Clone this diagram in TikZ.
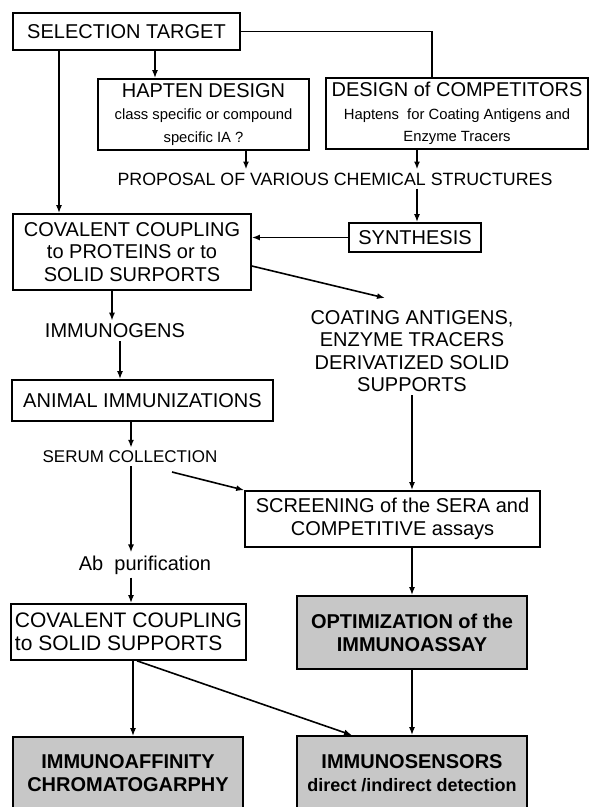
\documentclass[tikz,border=0pt]{standalone}
\usepackage{fontspec}
\setmainfont{Liberation Sans}
\usetikzlibrary{arrows.meta,calc}
\newcommand\subf{\fontsize{14.8}{17}\selectfont}
\newcommand\mainf{\fontsize{20}{22.5}\selectfont}
\begin{document}
\begin{tikzpicture}[x=1pt,y=-1pt,
  box/.style={draw, line width=1.7pt, inner sep=0pt, align=center, font=\mainf},
  shbox/.style={box, fill=black!22, font=\bfseries\fontsize{20}{23}\selectfont},
  lbl/.style={inner sep=3pt, align=center, font=\mainf},
  arr/.style={line width=1.6pt, -{Latex[length=8pt,width=6pt]}},
  ln/.style={line width=1.6pt}]
\useasboundingbox (0,0) rectangle (589,807);
\fill[white] (0,0) rectangle (589,807);
% columns
\coordinate (cL) at (59,0);
\coordinate (cH) at (155,0);
\coordinate (cD) at (432,0);
\coordinate (cP1) at (246,0);
\coordinate (cP2) at (417,0);
\coordinate (cI1) at (112,0);
\coordinate (cI2) at (120,0);
\coordinate (cS) at (131,0);
\coordinate (cR) at (412,0);
\coordinate (cA) at (133,0);
\coordinate (cB) at (137,0);
\coordinate (cN) at (352,0);
% nodes
\node[box, minimum width=227pt, minimum height=37pt] (sel) at (126.5,31.5) {SELECTION TARGET};
\node[box, minimum width=211pt, minimum height=71pt] (hap) at (203.5,114.5)
  {HAPTEN DESIGN\\ \subf class specific or compound\\ \subf specific IA ?};
\node[box, minimum width=262pt, minimum height=71pt] (des) at (457,113.5)
  {DESIGN of COMPETITORS\\ \subf Haptens\ \ for Coating Antigens and\\ \subf Enzyme Tracers};
\node[lbl, font=\fontsize{17.8}{20}\selectfont] (prop) at (335,179) {PROPOSAL OF VARIOUS CHEMICAL STRUCTURES};
\node[box, minimum width=132pt, minimum height=29pt] (syn) at (415,237.5) {SYNTHESIS};
\node[box, minimum width=238pt, minimum height=76pt] (cov1) at (132,252)
  {COVALENT COUPLING\\to PROTEINS or to\\SOLID SURPORTS};
\node[lbl] (immg) at (115,331) {IMMUNOGENS};
\node[lbl] (coat) at (412,351) {COATING ANTIGENS,\\ENZYME TRACERS\\DERIVATIZED SOLID\\SUPPORTS};
\node[box, minimum width=261pt, minimum height=41pt] (ani) at (142.5,400.5) {ANIMAL IMMUNIZATIONS};
\node[lbl, font=\fontsize{17}{19}\selectfont] (ser) at (130,457) {SERUM COLLECTION};
\node[box, minimum width=295pt, minimum height=56pt] (scr) at (392.5,519)
  {SCREENING of the SERA and\\COMPETITIVE assays};
\node[lbl] (abp) at (145,565) {Ab\ \ purification};
\node[box, align=left, minimum width=235pt, minimum height=56pt, font=\fontsize{21}{23.5}\selectfont] (cov2) at (128.5,632)
  {COVALENT COUPLING\\to SOLID SUPPORTS};
\node[shbox, minimum width=230pt, minimum height=73pt] (opt) at (412,632.5)
  {OPTIMIZATION of the\\IMMUNOASSAY};
\node[shbox, minimum width=230pt, minimum height=72pt] (iaf) at (128,773)
  {IMMUNOAFFINITY\\CHROMATOGARPHY};
\node[shbox, minimum width=230pt, minimum height=74pt] (ims) at (412,773)
  {IMMUNOSENSORS\\ \fontsize{18}{21}\selectfont direct /indirect detection};
% connectors
\draw[ln] (sel.east) -| (des.north -| cD);
\draw[arr] (sel.south -| cL) -- (cov1.north -| cL);
\draw[arr] (sel.south -| cH) -- (hap.north -| cH);
\draw[arr] (hap.south -| cP1) -- (prop.north -| cP1);
\draw[arr] (des.south -| cP2) -- (prop.north -| cP2);
\draw[arr] (prop.south -| cP2) -- (syn.north -| cP2);
\draw[arr] (syn.west) -- (syn.west -| cov1.east);
\coordinate (coatTip) at (385,298);
\draw[arr] ([yshift=-14pt]cov1.east) -- (coatTip);
\draw[arr] (cov1.south -| cI1) -- (immg.north -| cI1);
\draw[arr] (immg.south -| cI2) -- (ani.north -| cI2);
\draw[arr] (ani.south -| cS) -- (ser.north -| cS);
\draw[arr] (ser.south -| cS) -- (abp.north -| cS);
\coordinate (serOut) at (172,472);
\draw[arr] (serOut) -- (scr.north west);
\draw[arr] (coat.south -| cR) -- (scr.north -| cR);
\draw[arr] (abp.south -| cS) -- (cov2.north -| cS);
\draw[arr] (scr.south -| cR) -- (opt.north -| cR);
\draw[arr] (cov2.south -| cA) -- (iaf.north -| cA);
\draw[arr] (cov2.south -| cB) -- (ims.north -| cN);
\draw[arr] (opt.south -| cR) -- (ims.north -| cR);
\end{tikzpicture}
\end{document}
